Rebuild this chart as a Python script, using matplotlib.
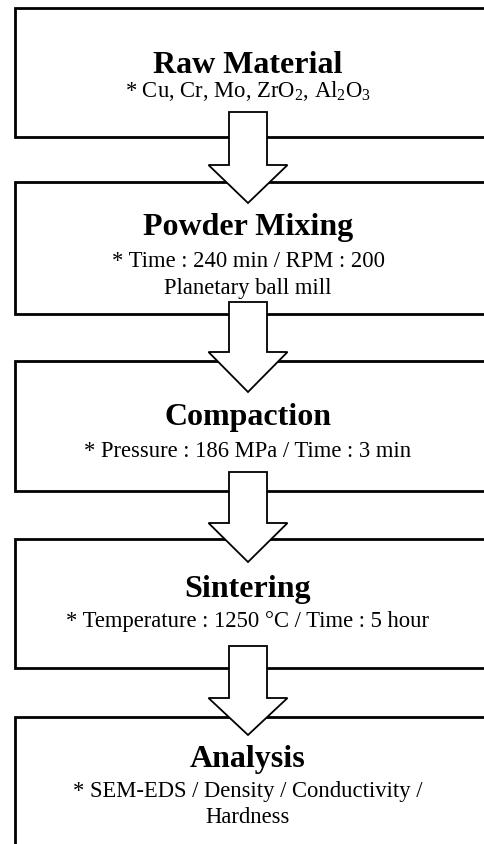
import matplotlib
matplotlib.use("Agg")
import matplotlib.pyplot as plt
from matplotlib.patches import Polygon, Rectangle

plt.rcParams["font.family"] = ["Liberation Serif", "DejaVu Serif"]
plt.rcParams["mathtext.fontset"] = "custom"
plt.rcParams["mathtext.rm"] = "Liberation Serif"
plt.rcParams["mathtext.it"] = "Liberation Serif:italic"
plt.rcParams["mathtext.bf"] = "Liberation Serif:bold"

# process steps
step_titles = ["Raw Material", "Powder Mixing", "Compaction", "Sintering", "Analysis"]
step_details = [
    [r"* Cu, Cr, Mo, ZrO$_2$, Al$_2$O$_3$"],
    ["* Time : 240 min / RPM : 200", "Planetary ball mill"],
    ["* Pressure : 186 MPa / Time : 3 min"],
    ["* Temperature : 1250 \u00b0C / Time : 5 hour"],
    ["* SEM-EDS / Density / Conductivity /", "Hardness"],
]

# layout in pixels (y downward), text positions are baselines
W, H = 484, 845
box_left = 15
box_tops = [9, 183, 362, 540, 718]
box_bottoms = [138, 315, 492, 669, 900]
title_y = [73, 235, 425, 597, 767]
detail_y = [[97], [267, 294], [457], [627], [797, 823]]
cx = 248
shaft_half = 19
head_half = 39.5
arrow_shaft_top = [113, 303, 473, 647]
arrow_head_base = [166, 353, 524, 699]
arrow_tip = [204, 393, 563, 736]

fig = plt.figure(figsize=(W / 100, H / 100), dpi=100)
ax = fig.add_axes([0, 0, 1, 1])
ax.set_xlim(0, W)
ax.set_ylim(H, 0)
ax.axis("off")

for top, bottom in zip(box_tops, box_bottoms):
    ax.add_patch(Rectangle((box_left, top), W + 50 - box_left, bottom - top,
                           facecolor="white", edgecolor="black", linewidth=2.0, zorder=1))

for st, hb, tip in zip(arrow_shaft_top, arrow_head_base, arrow_tip):
    pts = [
        (cx - shaft_half, st), (cx + shaft_half, st), (cx + shaft_half, hb),
        (cx + head_half, hb), (cx, tip), (cx - head_half, hb), (cx - shaft_half, hb),
    ]
    ax.add_patch(Polygon(pts, closed=True, facecolor="white", edgecolor="black",
                         linewidth=1.3, zorder=3))

for title, ty, details, dys in zip(step_titles, title_y, step_details, detail_y):
    ax.text(cx, ty, title, ha="center", va="baseline", fontsize=23,
            fontweight="bold", zorder=4)
    for d, dy in zip(details, dys):
        ax.text(cx, dy, d, ha="center", va="baseline", fontsize=16.3, zorder=4)

fig.savefig("out.png", dpi=100, facecolor="white")
plt.close(fig)
